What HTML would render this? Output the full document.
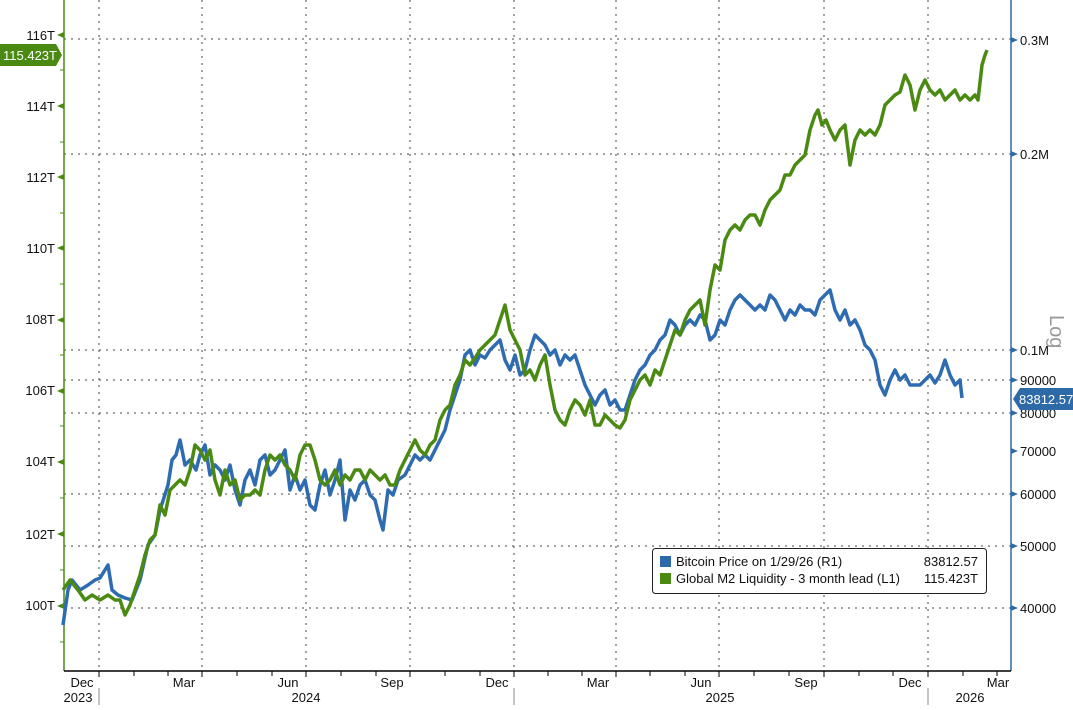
<!DOCTYPE html>
<html><head><meta charset="utf-8"><style>
body{margin:0;background:#fff;}
svg text{font-family:"Liberation Sans",sans-serif;font-size:13px;fill:#111;}
</style></head><body>
<svg width="1073" height="705" viewBox="0 0 1073 705" xmlns="http://www.w3.org/2000/svg">
<rect width="1073" height="705" fill="#fff"/>
<g stroke="#444" stroke-width="1" stroke-dasharray="2,5">
<line x1="64" y1="39" x2="1011" y2="39"/>
<line x1="64" y1="154" x2="1011" y2="154"/>
<line x1="64" y1="350" x2="1011" y2="350"/>
<line x1="64" y1="380" x2="1011" y2="380"/>
<line x1="64" y1="413" x2="1011" y2="413"/>
<line x1="64" y1="494" x2="1011" y2="494"/>
<line x1="64" y1="546" x2="1011" y2="546"/>
<line x1="64" y1="608" x2="1011" y2="608"/>
<line x1="99" y1="0" x2="99" y2="671"/>
<line x1="202" y1="0" x2="202" y2="671"/>
<line x1="306" y1="0" x2="306" y2="671"/>
<line x1="410" y1="0" x2="410" y2="671"/>
<line x1="514" y1="0" x2="514" y2="671"/>
<line x1="616" y1="0" x2="616" y2="671"/>
<line x1="719" y1="0" x2="719" y2="671"/>
<line x1="824" y1="0" x2="824" y2="671"/>
<line x1="928" y1="0" x2="928" y2="671"/>
</g>
<line x1="64" y1="0" x2="64" y2="671" stroke="#4a8a12" stroke-width="1.5"/>
<line x1="1011" y1="0" x2="1011" y2="671" stroke="#2f6aa8" stroke-width="1.5"/>
<line x1="64" y1="671" x2="1011" y2="671" stroke="#000" stroke-width="1.5"/>
<g stroke="#000"><line x1="99" y1="671" x2="99" y2="677"/><line x1="134" y1="671" x2="134" y2="676"/><line x1="168" y1="671" x2="168" y2="676"/><line x1="202" y1="671" x2="202" y2="677"/><line x1="237" y1="671" x2="237" y2="676"/><line x1="272" y1="671" x2="272" y2="676"/><line x1="306" y1="671" x2="306" y2="677"/><line x1="341" y1="671" x2="341" y2="676"/><line x1="376" y1="671" x2="376" y2="676"/><line x1="410" y1="671" x2="410" y2="677"/><line x1="445" y1="671" x2="445" y2="676"/><line x1="480" y1="671" x2="480" y2="676"/><line x1="514" y1="671" x2="514" y2="677"/><line x1="548" y1="671" x2="548" y2="676"/><line x1="582" y1="671" x2="582" y2="676"/><line x1="616" y1="671" x2="616" y2="677"/><line x1="650" y1="671" x2="650" y2="676"/><line x1="685" y1="671" x2="685" y2="676"/><line x1="719" y1="671" x2="719" y2="677"/><line x1="754" y1="671" x2="754" y2="676"/><line x1="789" y1="671" x2="789" y2="676"/><line x1="824" y1="671" x2="824" y2="677"/><line x1="859" y1="671" x2="859" y2="676"/><line x1="893" y1="671" x2="893" y2="676"/><line x1="928" y1="671" x2="928" y2="677"/><line x1="963" y1="671" x2="963" y2="676"/><line x1="997" y1="671" x2="997" y2="676"/></g>
<g stroke="#888"><line x1="99" y1="688" x2="99" y2="705"/><line x1="514" y1="688" x2="514" y2="705"/><line x1="928" y1="688" x2="928" y2="705"/></g>
<g text-anchor="middle">
<text x="82" y="687">Dec</text><text x="184" y="687">Mar</text><text x="288" y="687">Jun</text><text x="392" y="687">Sep</text><text x="497" y="687">Dec</text><text x="598" y="687">Mar</text><text x="701" y="687">Jun</text><text x="806" y="687">Sep</text><text x="910" y="687">Dec</text><text x="998" y="687">Mar</text>
<text x="78" y="702">2023</text><text x="306" y="702">2024</text><text x="720" y="702">2025</text><text x="970" y="702">2026</text>
</g>
<g text-anchor="end">
<text x="55" y="40">116T</text><text x="55" y="111">114T</text><text x="55" y="182">112T</text><text x="55" y="253">110T</text><text x="55" y="324">108T</text><text x="55" y="395">106T</text><text x="55" y="466">104T</text><text x="55" y="539">102T</text><text x="55" y="610">100T</text>
</g>
<g fill="#4a8a12"><polygon points="57,35 64,32 64,38"/><polygon points="57,106 64,103 64,109"/><polygon points="57,177 64,174 64,180"/><polygon points="57,248 64,245 64,251"/><polygon points="57,320 64,317 64,323"/><polygon points="57,391 64,388 64,394"/><polygon points="57,462 64,459 64,465"/><polygon points="57,534 64,531 64,537"/><polygon points="57,606 64,603 64,609"/></g>
<g stroke="#4a8a12"><line x1="60" y1="70" x2="64" y2="70"/><line x1="60" y1="142" x2="64" y2="142"/><line x1="60" y1="213" x2="64" y2="213"/><line x1="60" y1="284" x2="64" y2="284"/><line x1="60" y1="355" x2="64" y2="355"/><line x1="60" y1="426" x2="64" y2="426"/><line x1="60" y1="498" x2="64" y2="498"/><line x1="60" y1="570" x2="64" y2="570"/><line x1="60" y1="642" x2="64" y2="642"/></g>
<polygon points="0,44 56,44 62,55 56,66 0,66" fill="#4a8a12"/>
<text x="3" y="60" style="fill:#fff;font-size:13px">115.423T</text>
<g fill="#2f6aa8"><polygon points="1018,40 1011,37 1011,43"/><polygon points="1018,154 1011,151 1011,157"/><polygon points="1018,350 1011,347 1011,353"/><polygon points="1018,380 1011,377 1011,383"/><polygon points="1018,413 1011,410 1011,416"/><polygon points="1018,451 1011,448 1011,454"/><polygon points="1018,494 1011,491 1011,497"/><polygon points="1018,546 1011,543 1011,549"/><polygon points="1018,608 1011,605 1011,611"/></g>
<g>
<text x="1020" y="45">0.3M</text><text x="1020" y="159">0.2M</text><text x="1020" y="355">0.1M</text><text x="1020" y="385">90000</text><text x="1020" y="418">80000</text><text x="1020" y="456">70000</text><text x="1020" y="499">60000</text><text x="1020" y="551">50000</text><text x="1020" y="613">40000</text>
</g>
<text x="1050" y="315" transform="rotate(90 1050 315)" style="fill:#999;font-size:20px">Log</text>
<polygon points="1013,399 1020,388 1073,388 1073,410 1020,410" fill="#2f6aa8"/>
<text x="1019" y="404" style="fill:#fff;font-size:13px">83812.57</text>
<polyline fill="none" stroke="#2f6bb0" stroke-width="3.5" stroke-linejoin="round" points="63,625 68,590 72,580 80,590 88,585 95,580 100,578 108,565 112,590 118,595 125,598 132,600 140,580 148,545 155,535 160,510 168,485 172,460 176,455 180,440 185,465 190,460 196,470 200,455 205,445 210,475 215,465 220,470 225,480 230,465 235,490 240,505 245,480 250,470 255,485 260,460 265,455 270,475 275,470 280,460 285,450 290,490 295,475 300,490 305,480 310,505 315,510 320,485 325,470 330,495 335,480 340,460 345,520 350,490 355,500 360,485 365,480 370,495 375,500 380,520 383,530 388,490 393,495 398,480 405,475 410,465 415,455 420,460 425,455 430,460 435,450 440,440 445,430 450,410 455,395 460,380 465,355 470,350 475,365 480,355 485,358 490,350 495,345 500,340 505,360 510,370 515,355 520,375 525,370 530,350 535,335 540,340 545,345 550,355 555,350 560,365 565,355 570,360 575,355 580,370 585,385 590,395 595,405 600,395 605,390 610,405 615,400 620,410 625,410 630,395 635,380 640,370 645,365 650,355 655,350 660,340 665,335 670,320 675,325 680,335 685,325 690,320 695,325 700,315 705,320 710,340 715,335 720,320 725,325 730,310 735,300 740,295 745,300 750,305 755,310 760,305 765,310 770,295 775,300 780,310 785,320 790,310 795,315 800,305 805,310 810,310 815,315 820,300 825,295 830,290 835,310 840,320 845,310 850,325 855,320 860,330 865,345 870,350 875,360 880,385 885,395 890,380 895,370 900,380 905,375 910,385 915,385 920,385 925,380 930,375 935,383 940,375 945,360 950,375 955,385 960,380 962,398"/>
<polyline fill="none" stroke="#4a8a12" stroke-width="3.5" stroke-linejoin="round" points="63,590 70,580 78,590 85,600 92,595 100,600 108,595 115,600 120,600 125,615 130,605 135,590 140,575 145,555 150,540 155,535 160,505 165,515 170,490 175,485 180,480 185,485 190,470 195,445 200,450 205,460 210,450 215,480 220,495 225,470 230,485 235,480 240,500 245,495 250,495 255,490 260,495 265,470 270,455 275,460 280,455 285,465 290,470 295,480 300,455 305,445 310,445 315,460 320,480 325,485 330,480 335,470 340,485 345,475 350,480 355,470 360,470 365,480 370,470 375,475 380,480 385,475 390,485 395,485 400,470 405,460 410,450 415,440 420,450 425,455 430,445 435,440 440,420 445,410 450,405 455,385 460,375 465,360 470,365 475,358 480,350 485,345 490,340 495,335 500,320 505,305 510,330 515,340 520,350 525,375 530,370 535,380 540,365 545,355 550,385 555,410 560,420 565,425 570,410 575,400 580,405 585,415 590,400 595,425 600,425 605,415 610,420 615,425 620,428 625,420 630,400 635,390 640,380 645,375 650,385 655,370 660,375 665,360 670,345 675,330 680,335 685,320 690,310 695,305 700,300 705,325 710,290 715,265 720,270 725,240 730,230 735,225 740,230 745,220 750,215 755,215 760,225 765,210 770,200 775,195 780,190 785,175 790,175 795,165 800,160 805,155 810,130 815,115 818,110 822,125 826,120 830,130 835,140 840,130 845,125 850,165 855,140 860,130 865,135 870,130 875,135 880,125 885,105 890,100 895,95 900,92 905,75 910,85 915,110 920,90 925,80 930,90 935,95 940,90 945,100 950,95 955,90 960,100 965,95 970,100 975,95 978,100 982,65 985,55 987,50"/>
<rect x="652.5" y="548.5" width="334" height="45" rx="3" fill="#fff" stroke="#222"/>
<rect x="660" y="556" width="11" height="11" fill="#2f6aa8"/>
<rect x="660" y="573" width="11" height="11" fill="#4a8a12"/>
<text x="676" y="566">Bitcoin Price on 1/29/26 (R1)</text>
<text x="676" y="583">Global M2 Liquidity - 3 month lead (L1)</text>
<text x="978" y="566" text-anchor="end">83812.57</text>
<text x="978" y="583" text-anchor="end">115.423T</text>
</svg>
</body></html>
